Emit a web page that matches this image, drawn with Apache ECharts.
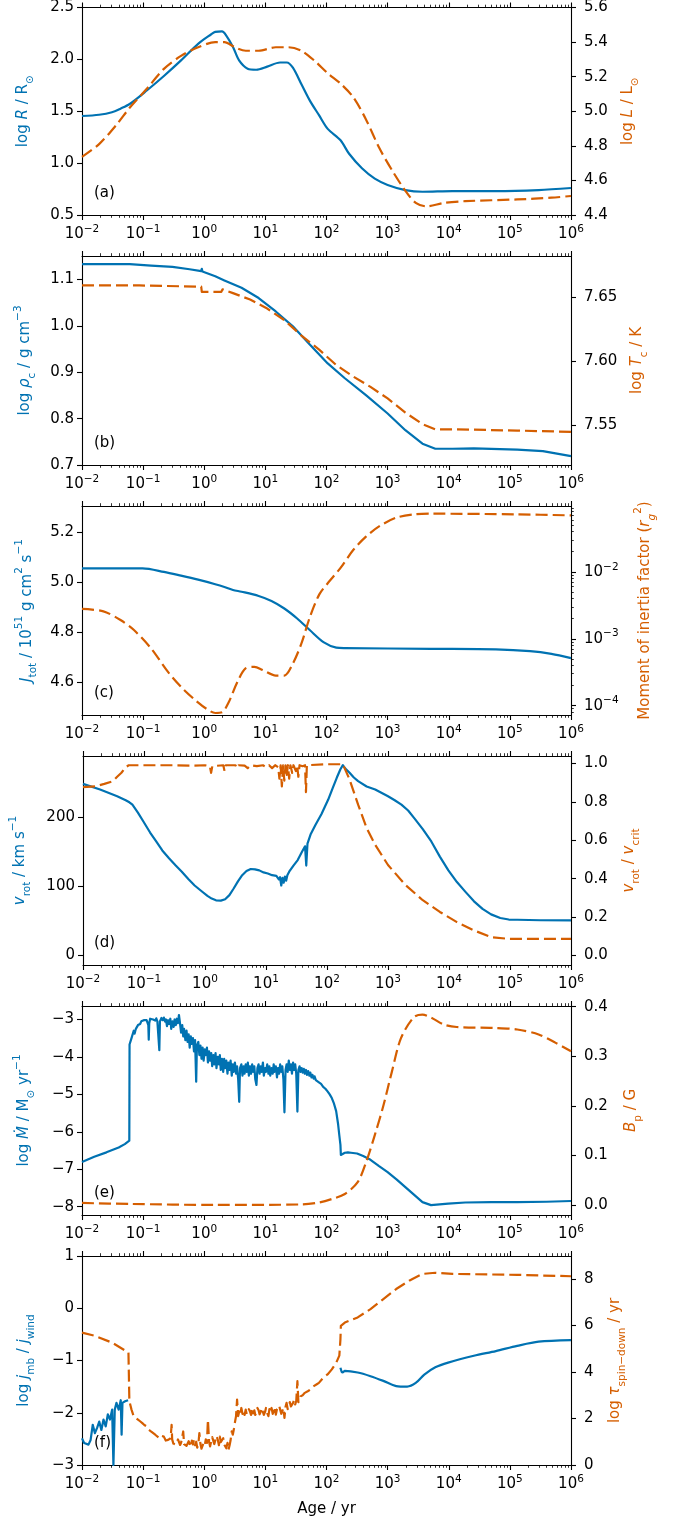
<!DOCTYPE html>
<html><head><meta charset="utf-8">
<script src="https://cdn.jsdelivr.net/npm/echarts@6/dist/echarts.min.js"></script>
<style>html,body{margin:0;padding:0;background:#fff}#c{width:676px;height:1520px}</style>
</head><body><div id="c"></div>
<script>
// ---------------- DATA (x = log10(Age / yr)) ----------------
const xTickExps = [-2, -1, 0, 1, 2, 3, 4, 5, 6];
const panelLabels = ['(a)', '(b)', '(c)', '(d)', '(e)', '(f)'];

// (a)
const logRadius = [[-2,1.454],[-1.72,1.466],[-1.51,1.49],[-1.37,1.525],[-1.22,1.57],[-0.94,1.70],[-0.66,1.84],[-0.38,1.99],[-0.10,2.15],[0.11,2.24],[0.18,2.265],[0.29,2.27],[0.36,2.23],[0.47,2.12],[0.57,1.99],[0.71,1.91],[0.85,1.90],[1.03,1.93],[1.24,1.97],[1.35,1.97],[1.45,1.92],[1.59,1.76],[1.73,1.60],[1.88,1.46],[2.02,1.33],[2.23,1.22],[2.37,1.09],[2.58,0.95],[2.79,0.85],[3.00,0.79],[3.29,0.74],[3.57,0.724],[4.06,0.73],[4.77,0.73],[5.47,0.74],[6.0,0.76]];
const logLum = [[-2,4.736],[-1.72,4.81],[-1.44,4.92],[-1.22,5.02],[-0.94,5.13],[-0.66,5.245],[-0.38,5.32],[-0.10,5.37],[0.18,5.40],[0.33,5.40],[0.50,5.37],[0.68,5.35],[0.89,5.35],[1.17,5.37],[1.38,5.37],[1.59,5.35],[1.81,5.29],[2.02,5.22],[2.23,5.16],[2.44,5.08],[2.65,4.95],[2.86,4.79],[3.07,4.66],[3.29,4.54],[3.46,4.47],[3.64,4.45],[3.92,4.47],[4.27,4.48],[5.12,4.49],[5.68,4.50],[6.0,4.51]];
const ticksRadius = [0.5, 1.0, 1.5, 2.0, 2.5];
const ticksLum = [4.4, 4.6, 4.8, 5.0, 5.2, 5.4, 5.6];

// (b)
const logRhoC = [[-2,1.133],[-1.22,1.133],[-0.87,1.130],[-0.52,1.127],[-0.24,1.122],[-0.05,1.118],[-0.04,1.123],[-0.03,1.117],[0.18,1.107],[0.33,1.098],[0.61,1.082],[0.89,1.060],[1.17,1.031],[1.45,0.999],[1.73,0.959],[2.02,0.919],[2.30,0.887],[2.65,0.850],[3.00,0.811],[3.29,0.775],[3.57,0.746],[3.78,0.735],[4.06,0.735],[4.41,0.736],[5.12,0.733],[5.54,0.730],[6,0.719]];
const logTc = [[-2,7.659],[-1.06,7.659],[-1.05,7.658],[-0.05,7.658],[-0.04,7.654],[0.28,7.654],[0.30,7.656],[0.47,7.653],[0.75,7.648],[1.03,7.641],[1.31,7.632],[1.59,7.620],[1.88,7.609],[2.16,7.597],[2.44,7.588],[2.72,7.580],[3.00,7.571],[3.29,7.560],[3.57,7.551],[3.78,7.547],[4.06,7.547],[5.12,7.546],[6,7.545]];
const ticksRhoC = [0.7, 0.8, 0.9, 1.0, 1.1];
const ticksTc = [7.55, 7.60, 7.65];

// (c)
const jTot = [[-2,5.054],[-1.01,5.054],[-0.66,5.04],[-0.38,5.025],[-0.10,5.009],[0.18,4.991],[0.33,4.98],[0.47,4.968],[0.61,4.961],[0.89,4.944],[1.10,4.924],[1.31,4.894],[1.52,4.854],[1.73,4.807],[1.95,4.760],[2.16,4.738],[2.30,4.736],[3.71,4.733],[4.77,4.731],[5.33,4.724],[5.68,4.713],[6,4.696]];
const logRg2 = [[-2,-2.554],[-1.65,-2.59],[-1.37,-2.72],[-1.15,-2.87],[-0.87,-3.145],[-0.59,-3.50],[-0.38,-3.72],[-0.17,-3.90],[0.04,-4.05],[0.18,-4.11],[0.29,-4.10],[0.40,-3.95],[0.54,-3.65],[0.68,-3.44],[0.82,-3.42],[0.96,-3.47],[1.17,-3.55],[1.31,-3.55],[1.45,-3.37],[1.59,-3.07],[1.73,-2.67],[1.88,-2.34],[2.02,-2.17],[2.23,-1.94],[2.44,-1.67],[2.65,-1.47],[2.86,-1.32],[3.14,-1.19],[3.43,-1.14],[3.71,-1.13],[5.12,-1.14],[6,-1.155]];
const ticksJTot = [4.6, 4.8, 5.0, 5.2];
const ticksRg2Exp = [-4, -3, -2, -1];

// (d)
const vRot = [[-2,248.8],[-1.72,240.5],[-1.44,230.7],[-1.30,225],[-1.24,222],[-1.19,218.5],[-1.1,207],[-1.01,194],[-0.90,178],[-0.80,165],[-0.70,152],[-0.59,140.5],[-0.48,130],[-0.38,121],[-0.27,110],[-0.17,101],[-0.06,93],[0.04,86],[0.11,82],[0.18,79.5],[0.26,79],[0.33,81],[0.40,87],[0.47,96.6],[0.54,107],[0.61,116],[0.68,122],[0.75,125],[0.82,124.5],[0.89,123],[0.96,120],[1.03,118.5],[1.10,116],[1.17,115],[1.21,110],[1.23,113],[1.25,101],[1.27,112],[1.29,105],[1.31,114],[1.33,108],[1.35,116],[1.38,121],[1.45,130],[1.52,138],[1.59,150],[1.64,158],[1.66,130],[1.68,162],[1.73,175],[1.81,189],[1.91,205],[2.02,226],[2.09,242],[2.16,257.6],[2.22,270],[2.26,276],[2.30,271],[2.37,265],[2.44,258],[2.51,252.7],[2.65,245],[2.79,240.5],[3.00,230.7],[3.11,225],[3.22,218.5],[3.33,210],[3.43,199],[3.57,183],[3.71,165],[3.85,143],[3.99,123],[4.13,106],[4.27,91.7],[4.41,78],[4.55,67],[4.69,59],[4.84,53.7],[4.98,51.5],[5.12,51.2],[5.5,50.5],[6,50.2]];
const vRatio = [[-2,0.876],[-1.8,0.88],[-1.65,0.893],[-1.51,0.907],[-1.44,0.93],[-1.37,0.951],[-1.30,0.980],[-1.25,0.99],[-1.0,0.99],[-0.5,0.99],[-0.2,0.988],[0.0,0.99],[0.08,0.985],[0.10,0.95],[0.12,0.985],[0.3,0.99],[0.32,0.96],[0.34,0.99],[0.5,0.99],[0.52,0.975],[0.55,0.99],[0.65,0.988],[0.70,0.975],[0.75,0.99],[0.85,0.985],[0.95,0.99],[1.0,0.98],[1.05,0.99],[1.10,0.975],[1.15,0.99],[1.20,0.98],[1.22,0.92],[1.24,0.99],[1.26,0.88],[1.28,0.99],[1.30,0.91],[1.32,0.99],[1.34,0.94],[1.36,0.99],[1.38,0.92],[1.40,0.99],[1.43,0.95],[1.45,0.99],[1.49,0.96],[1.51,0.99],[1.53,0.93],[1.55,0.99],[1.60,0.985],[1.64,0.99],[1.655,0.85],[1.67,0.99],[1.70,0.995],[2.0,0.995],[2.26,0.995],[2.37,0.916],[2.51,0.785],[2.65,0.663],[2.79,0.576],[3.00,0.471],[3.29,0.366],[3.57,0.288],[3.85,0.227],[4.13,0.174],[4.41,0.131],[4.69,0.096],[4.98,0.087],[6,0.087]];
const ticksVRot = [0, 100, 200];
const ticksVRatio = [0.0, 0.2, 0.4, 0.6, 0.8, 1.0];

// (e)
const logMdot = [[-2.0,-6.81],[-1.8,-6.67],[-1.6,-6.55],[-1.4,-6.42],[-1.3,-6.33],[-1.226,-6.24],[-1.222,-3.67],[-1.21,-3.62],[-1.19,-3.50],[-1.17,-3.45],[-1.154,-3.30],[-1.14,-3.38],[-1.119,-3.25],[-1.10,-3.20],[-1.084,-3.15],[-1.07,-3.10],[-1.049,-3.12],[-1.03,-3.05],[-1.013,-3.08],[-0.99,-3.02],[-0.978,-3.06],[-0.96,-2.98],[-0.943,-3.02],[-0.925,-3.00],[-0.915,-3.15],[-0.908,-3.54],[-0.900,-3.10],[-0.885,-2.98],[-0.872,-3.02],[-0.855,-2.96],[-0.837,-3.00],[-0.82,-2.95],[-0.802,-3.03],[-0.785,-2.97],[-0.767,-3.05],[-0.745,-3.00],[-0.735,-3.82],[-0.725,-3.05],[-0.70,-2.96],[-0.68,-3.02],[-0.661,-2.95],[-0.64,-3.06],[-0.626,-3.00],[-0.61,-3.18],[-0.591,-3.02],[-0.575,-3.12],[-0.555,-2.98],[-0.54,-3.25],[-0.52,-3.05],[-0.50,-3.20],[-0.485,-3.00],[-0.465,-3.15],[-0.45,-2.98],[-0.43,-3.10],[-0.414,-2.88],[-0.40,-3.05],[-0.379,-3.35],[-0.36,-3.15],[-0.344,-3.45],[-0.33,-3.25],[-0.309,-3.55],[-0.29,-3.30],[-0.273,-3.60],[-0.255,-3.40],[-0.238,-3.75],[-0.22,-3.45],[-0.203,-3.65],[-0.185,-3.50],[-0.168,-3.85],[-0.15,-3.55],[-0.132,-4.66],[-0.12,-3.70],[-0.097,-3.60],[-0.08,-3.95],[-0.062,-3.70],[-0.045,-4.05],[-0.027,-3.75],[-0.01,-4.10],[0.008,-3.80],[0.025,-3.95],[0.044,-3.75],[0.06,-4.15],[0.079,-3.85],[0.095,-4.10],[0.114,-3.90],[0.13,-4.25],[0.149,-3.95],[0.165,-4.20],[0.185,-3.90],[0.20,-4.30],[0.22,-4.00],[0.24,-4.20],[0.255,-3.95],[0.27,-4.35],[0.29,-4.05],[0.31,-4.40],[0.326,-4.05],[0.34,-4.30],[0.361,-4.10],[0.38,-4.45],[0.396,-4.15],[0.41,-4.35],[0.431,-4.10],[0.45,-4.50],[0.467,-4.20],[0.48,-4.40],[0.502,-4.15],[0.52,-4.45],[0.537,-4.25],[0.555,-4.60],[0.572,-5.20],[0.585,-4.30],[0.607,-4.20],[0.625,-4.50],[0.643,-4.25],[0.66,-4.45],[0.678,-4.20],[0.695,-4.40],[0.713,-4.15],[0.73,-4.50],[0.748,-4.25],[0.765,-4.45],[0.784,-4.20],[0.80,-4.40],[0.819,-4.25],[0.835,-4.60],[0.854,-4.75],[0.87,-4.30],[0.889,-4.20],[0.905,-4.45],[0.925,-4.25],[0.94,-4.40],[0.96,-4.15],[0.975,-4.50],[0.995,-4.30],[1.01,-4.40],[1.030,-4.20],[1.05,-4.45],[1.066,-4.25],[1.08,-4.50],[1.101,-4.30],[1.12,-4.45],[1.136,-4.20],[1.15,-4.40],[1.171,-4.25],[1.19,-4.55],[1.206,-4.30],[1.225,-4.45],[1.242,-4.20],[1.26,-4.40],[1.277,-4.25],[1.295,-4.60],[1.312,-5.48],[1.33,-4.35],[1.347,-4.20],[1.365,-4.40],[1.383,-4.10],[1.40,-4.35],[1.418,-4.20],[1.435,-4.45],[1.453,-4.15],[1.47,-4.35],[1.488,-4.20],[1.505,-4.45],[1.524,-5.46],[1.54,-4.35],[1.559,-4.25],[1.575,-4.40],[1.594,-4.30],[1.61,-4.42],[1.629,-4.32],[1.645,-4.45],[1.665,-4.35],[1.68,-4.48],[1.70,-4.38],[1.72,-4.50],[1.735,-4.42],[1.755,-4.55],[1.77,-4.48],[1.79,-4.58],[1.805,-4.52],[1.825,-4.62],[1.841,-4.60],[1.876,-4.68],[1.911,-4.72],[1.946,-4.80],[1.982,-4.85],[2.017,-4.92],[2.052,-5.00],[2.087,-5.10],[2.123,-5.25],[2.158,-5.45],[2.19,-5.80],[2.21,-6.10],[2.228,-6.35],[2.235,-6.62],[2.264,-6.60],[2.30,-6.56],[2.35,-6.55],[2.40,-6.56],[2.50,-6.58],[2.60,-6.65],[2.72,-6.75],[2.86,-6.92],[3.00,-7.08],[3.15,-7.28],[3.29,-7.48],[3.43,-7.68],[3.57,-7.88],[3.71,-7.96],[3.85,-7.94],[3.99,-7.92],[4.27,-7.89],[4.7,-7.88],[5.12,-7.88],[5.6,-7.87],[6.0,-7.85]];
const bPolar = [[-2,0.004],[-1.22,0.002],[0.18,0.0],[1.59,0.001],[1.88,0.005],[2.09,0.012],[2.30,0.022],[2.51,0.046],[2.65,0.087],[2.79,0.141],[2.93,0.20],[3.07,0.269],[3.22,0.337],[3.43,0.379],[3.57,0.384],[3.71,0.378],[3.92,0.364],[4.13,0.359],[4.77,0.357],[5.12,0.354],[5.47,0.344],[5.75,0.327],[6,0.31]];
const ticksMdot = [-8, -7, -6, -5, -4, -3];
const ticksBPolar = [0.0, 0.1, 0.2, 0.3, 0.4];

// (f)
const logJRatioEarly = [[-2.0,-2.49],[-1.965,-2.58],[-1.894,-2.61],[-1.859,-2.52],[-1.824,-2.23],[-1.789,-2.39],[-1.753,-2.29],[-1.718,-2.17],[-1.683,-2.33],[-1.648,-2.13],[-1.612,-2.26],[-1.577,-2.03],[-1.542,-2.13],[-1.507,-1.94],[-1.486,-3.0],[-1.464,-1.94],[-1.436,-1.81],[-1.40,-1.94],[-1.366,-1.76],[-1.352,-2.42],[-1.338,-1.81],[-1.295,-1.78],[-1.246,-1.76]];
const logJRatioLate = [[2.228,-1.14],[2.25,-1.22],[2.264,-1.23],[2.30,-1.20],[2.51,-1.23],[2.72,-1.30],[2.93,-1.39],[3.14,-1.49],[3.32,-1.50],[3.46,-1.43],[3.60,-1.27],[3.78,-1.13],[3.99,-1.04],[4.41,-0.91],[4.77,-0.82],[5.12,-0.72],[5.47,-0.64],[6.0,-0.61]];
const logTau = [[-2,5.69],[-1.79,5.55],[-1.51,5.26],[-1.24,4.83],[-1.225,2.74],[-1.19,2.38],[-1.154,2.09],[-1.12,2.02],[-1.084,1.95],[-1.05,1.88],[-1.013,1.80],[-0.98,1.72],[-0.943,1.66],[-0.91,1.52],[-0.872,1.44],[-0.84,1.38],[-0.802,1.30],[-0.77,1.22],[-0.731,1.15],[-0.70,1.25],[-0.661,1.22],[-0.63,1.05],[-0.591,1.08],[-0.55,1.15],[-0.534,1.73],[-0.525,1.10],[-0.505,0.92],[-0.485,1.00],[-0.465,0.88],[-0.45,0.94],[-0.43,1.10],[-0.414,1.02],[-0.395,0.86],[-0.379,0.95],[-0.344,1.44],[-0.33,0.90],[-0.309,0.98],[-0.29,0.82],[-0.273,0.79],[-0.255,1.02],[-0.238,0.95],[-0.22,0.78],[-0.203,1.05],[-0.185,0.88],[-0.168,1.08],[-0.15,0.85],[-0.132,1.00],[-0.115,0.75],[-0.097,0.88],[-0.08,1.37],[-0.062,0.90],[-0.045,0.70],[-0.027,0.72],[-0.01,0.95],[0.008,0.85],[0.025,1.10],[0.044,0.95],[0.06,1.95],[0.079,1.00],[0.095,0.80],[0.114,0.85],[0.13,1.20],[0.149,1.15],[0.165,0.90],[0.185,0.88],[0.20,1.25],[0.22,1.10],[0.24,0.85],[0.255,1.22],[0.27,0.98],[0.29,0.95],[0.31,1.15],[0.326,0.88],[0.345,0.80],[0.361,0.72],[0.38,0.95],[0.396,0.65],[0.415,0.85],[0.43,1.05],[0.45,1.45],[0.467,1.30],[0.485,1.55],[0.50,1.80],[0.52,2.10],[0.537,2.81],[0.555,2.10],[0.572,2.30],[0.59,2.15],[0.607,2.45],[0.625,2.20],[0.643,2.35],[0.66,2.15],[0.678,2.38],[0.695,2.18],[0.713,2.25],[0.73,2.40],[0.748,2.30],[0.765,2.15],[0.784,2.45],[0.80,2.22],[0.819,2.35],[0.835,2.15],[0.854,2.30],[0.87,2.45],[0.889,2.35],[0.905,2.18],[0.925,2.30],[0.94,2.45],[0.96,2.38],[0.975,2.15],[0.995,2.28],[1.01,2.45],[1.03,2.23],[1.05,2.10],[1.066,2.40],[1.08,2.25],[1.101,2.45],[1.12,2.20],[1.136,2.30],[1.155,2.50],[1.171,2.16],[1.19,2.40],[1.206,2.35],[1.225,2.55],[1.242,2.38],[1.26,2.20],[1.277,2.25],[1.295,2.45],[1.312,2.02],[1.33,2.50],[1.347,2.67],[1.365,2.40],[1.383,2.55],[1.40,2.70],[1.418,2.52],[1.435,2.45],[1.453,2.67],[1.47,2.80],[1.488,2.60],[1.505,2.75],[1.524,3.60],[1.54,2.70],[1.559,2.80],[1.575,2.95],[1.594,2.88],[1.61,3.00],[1.629,2.95],[1.645,3.10],[1.665,3.10],[1.70,3.18],[1.735,3.24],[1.77,3.35],[1.805,3.41],[1.841,3.47],[1.876,3.53],[1.946,3.75],[2.017,3.89],[2.087,4.11],[2.158,4.39],[2.21,4.70],[2.228,5.40],[2.235,5.98],[2.30,6.12],[2.51,6.34],[2.72,6.70],[2.93,7.13],[3.14,7.56],[3.36,7.93],[3.57,8.21],[3.78,8.26],[4.06,8.21],[5.12,8.17],[6,8.11]];
const ticksJRatio = [-3, -2, -1, 0, 1];
const ticksTau = [0, 2, 4, 6, 8];

// ---------------- STYLE / LAYOUT ----------------
const FONT = 'DejaVu Sans';
const BLUE = '#0072B2', ORANGE = '#D55E00';
const GL = 82, GW = 489, GH = 209, GT0 = 6, GSTEP = 250;
const FS = 15, FSS = 10.5;
const MINUS = '\u2212';
const fmtNum = d => v => (v < 0 ? MINUS : '') + Math.abs(v).toFixed(d);

function rich(color) {
  const base = { color, fontFamily: FONT, fontSize: FS, lineHeight: 25 };
  return {
    n: base,
    i: Object.assign({}, base, { fontStyle: 'italic' }),
    sb: { color, fontFamily: FONT, fontSize: FSS, lineHeight: 12, verticalAlign: 'bottom' },
    sbi: { color, fontFamily: FONT, fontSize: FSS, lineHeight: 12, verticalAlign: 'bottom', fontStyle: 'italic' },
    sp: { color, fontFamily: FONT, fontSize: FSS, lineHeight: 13, verticalAlign: 'top' }
  };
}
const xRich = {
  b: { fontFamily: FONT, fontSize: FS, color: '#000', lineHeight: 21 },
  s: { fontFamily: FONT, fontSize: FSS, color: '#000', lineHeight: 12, verticalAlign: 'top' }
};
const expLabel = v => '{b|10}{s|' + (v < 0 ? MINUS : '') + Math.abs(v) + '}';

const minorX = [];
for (let n = -2; n < 6; n++) for (let k = 2; k <= 9; k++) minorX.push(n + Math.log10(k));
const minorRg2 = [];
for (let n = -5; n < -1; n++) for (let k = 2; k <= 9; k++) {
  const v = n + Math.log10(k); if (v > -4.14 && v < -1.015) minorRg2.push(v);
}

const panels = [
  { left: { name: '{n|log }{i|R}{n| / R}{sb|⊙}', min: 0.5, max: 2.5, ticks: ticksRadius, fmt: fmtNum(1), gap: 46, data: logRadius, smooth: 0.3 },
    right: { name: '{n|log }{i|L}{n| / L}{sb|⊙}', min: 4.4, max: 5.6, ticks: ticksLum, fmt: fmtNum(1), gap: 45, data: logLum, smooth: 0.3 } },
  { left: { name: '{n|log }{i|ρ}{sb|c}{n| / g cm}{sp|' + MINUS + '3}', min: 0.7, max: 1.1506, ticks: ticksRhoC, fmt: fmtNum(1), gap: 44, data: logRhoC },
    right: { name: '{n|log }{i|T}{sb|c}{n| / K}', min: 7.5192, max: 7.6819, ticks: ticksTc, fmt: fmtNum(2), gap: 54, data: logTc } },
  { left: { name: '{i|J}{sb|tot}{n| / 10}{sp|51}{n| g cm}{sp|2}{n| s}{sp|' + MINUS + '1}', min: 4.469, max: 5.303, ticks: ticksJTot, fmt: fmtNum(1), gap: 40, data: jTot, smooth: 0.3 },
    right: { name: '{n|Moment of inertia factor (}{i|r}{sbi|g}{sp|2}{n|)}', min: -4.14, max: -1.015, ticks: ticksRg2Exp, fmt: expLabel, gap: 62, data: logRg2, rich: true, smooth: 0.3 } },
  { left: { name: '{i|v}{sb|rot}{n| / km s}{sp|' + MINUS + '1}', min: -14.6, max: 289.3, ticks: ticksVRot, fmt: fmtNum(0), gap: 50, data: vRot },
    right: { name: '{i|v}{sb|rot}{n| / }{i|v}{sb|crit}', min: -0.049, max: 1.038, ticks: ticksVRatio, fmt: fmtNum(1), gap: 46, data: vRatio } },
  { left: { name: '{n|log }{i|Ṁ}{n| / M}{sb|⊙}{n| yr}{sp|' + MINUS + '1}', min: -8.224, max: -2.64, ticks: ticksMdot, fmt: fmtNum(0), gap: 45, data: logMdot },
    right: { name: '{i|B}{sb|p}{n| / G}', min: -0.0203, max: 0.4014, ticks: ticksBPolar, fmt: fmtNum(1), gap: 48, data: bPolar, smooth: 0.3 } },
  { left: { name: '{n|log }{i|ȷ̇}{sb|mb}{n| / }{i|ȷ̇}{sb|wind}', min: -3, max: 1, ticks: ticksJRatio, fmt: fmtNum(0), gap: 45, data: logJRatioEarly, data2: logJRatioLate },
    right: { name: '{n|log }{i|τ}{sb|spin' + MINUS + 'down}{n| / yr}', min: 0, max: 8.98, ticks: ticksTau, fmt: fmtNum(0), gap: 32, data: logTau } }
];

const grid = [], xAxis = [], yAxis = [], series = [], title = [];
const axisLineStyle = { color: '#000', width: 1.1 };

panels.forEach((p, i) => {
  const top = GT0 + GSTEP * i;
  grid.push({ left: GL, top: top, width: GW, height: GH });
  title.push({ text: panelLabels[i], left: 94, top: top + 180, padding: 0,
    textStyle: { fontFamily: FONT, fontSize: FS, fontWeight: 'normal', color: '#000' } });
  const xBase = { type: 'value', gridIndex: i, min: -2, max: 6, interval: 1, splitLine: { show: false } };
  xAxis.push(Object.assign({}, xBase, {
    position: 'bottom',
    axisLine: { show: true, onZero: false, lineStyle: axisLineStyle },
    axisTick: { show: true, length: 5, lineStyle: axisLineStyle },
    axisLabel: { show: true, margin: 9, formatter: expLabel, rich: xRich },
    name: i === 5 ? 'Age / yr' : '', nameLocation: 'middle', nameGap: 37,
    nameTextStyle: { fontFamily: FONT, fontSize: FS, color: '#000' }
  }));
  xAxis.push(Object.assign({}, xBase, {
    position: 'bottom',
    axisLine: { show: false, onZero: false },
    axisTick: { show: true, length: 2.8, customValues: minorX, lineStyle: { color: '#000', width: 0.8 } },
    axisLabel: { show: false }
  }));
  xAxis.push(Object.assign({}, xBase, {
    position: 'top',
    axisLine: { show: true, onZero: false, lineStyle: axisLineStyle },
    axisTick: { show: true, length: 5, lineStyle: axisLineStyle },
    axisLabel: { show: false }
  }));
  xAxis.push(Object.assign({}, xBase, {
    position: 'top',
    axisLine: { show: false, onZero: false },
    axisTick: { show: true, length: 2.8, customValues: minorX, lineStyle: { color: '#000', width: 0.8 } },
    axisLabel: { show: false }
  }));

  ['left', 'right'].forEach(side => {
    const s = p[side];
    const color = side === 'left' ? BLUE : ORANGE;
    const lab = { show: true, customValues: s.ticks, formatter: s.fmt, margin: side === 'left' ? 8 : 13,
      color: '#000', fontFamily: FONT, fontSize: FS };
    if (s.rich) lab.rich = xRich;
    yAxis.push({
      type: 'value', gridIndex: i, position: side, min: s.min, max: s.max,
      splitLine: { show: false },
      axisLine: { show: true, onZero: false, lineStyle: axisLineStyle },
      axisTick: { show: true, length: 5, customValues: s.ticks, lineStyle: axisLineStyle },
      axisLabel: lab,
      name: s.name, nameLocation: 'middle', nameRotate: 90, nameGap: s.gap,
      nameTextStyle: { rich: rich(color), color, fontFamily: FONT, fontSize: FS }
    });
  });

  const lw = 2.2;
  const mk = (data, yIdx, color, dashed, smooth) => ({
    type: 'line', xAxisIndex: 4 * i, yAxisIndex: yIdx, data, symbol: 'none', showSymbol: false,
    smooth: smooth || false, clip: true, silent: true,
    lineStyle: { color, width: lw, type: dashed ? [12, 5] : 'solid', cap: 'butt', join: 'round' }
  });
  series.push(mk(p.left.data, 2 * i, BLUE, false, p.left.smooth));
  if (p.left.data2) series.push(mk(p.left.data2, 2 * i, BLUE, false, 0.3));
  series.push(mk(p.right.data, 2 * i + 1, ORANGE, true, p.right.smooth));
});

yAxis.push({
  type: 'value', gridIndex: 2, position: 'right', min: -4.14, max: -1.015,
  splitLine: { show: false },
  axisLine: { show: false, onZero: false },
  axisTick: { show: true, length: 2.8, customValues: minorRg2, lineStyle: { color: '#000', width: 0.8 } },
  axisLabel: { show: false }
});

const chart = echarts.init(document.getElementById('c'), null, { renderer: 'canvas' });
chart.setOption({
  animation: false,
  backgroundColor: '#fff',
  textStyle: { fontFamily: FONT },
  title, grid, xAxis, yAxis, series
});
</script></body></html>
